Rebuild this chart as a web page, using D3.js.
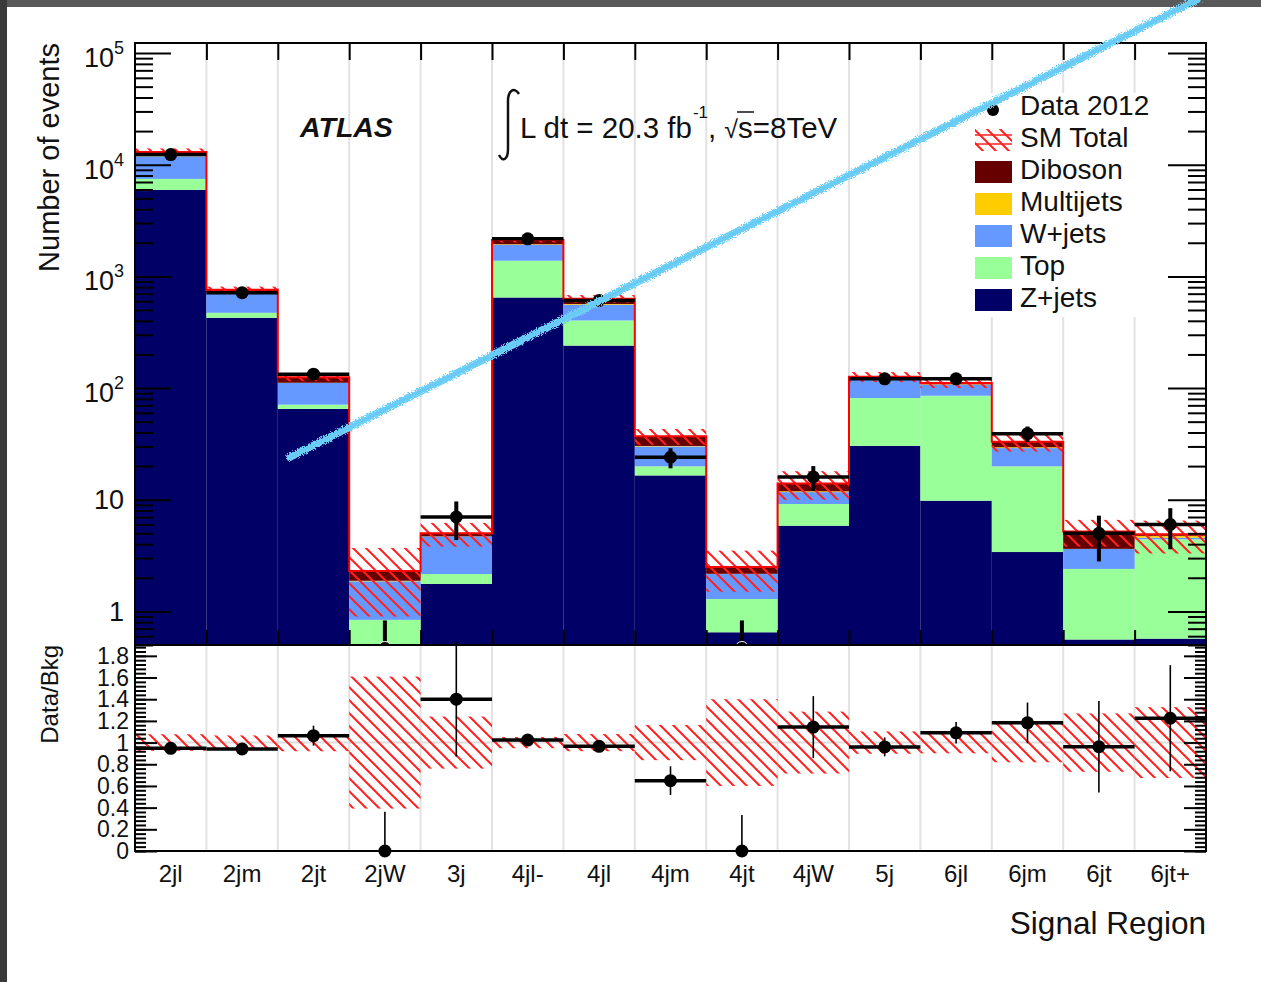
<!DOCTYPE html>
<html>
<head>
<meta charset="utf-8">
<script src="https://cdn.jsdelivr.net/npm/d3@7"></script>
<style>
body { margin: 0; background: #fff; }
svg { display: block; font-family: "Liberation Sans", Arial, Helvetica, sans-serif; }
</style>
</head>
<body>
<div id="canvas"></div>
<script>
// signal regions (bins)
const regions = ['2jl', '2jm', '2jt', '2jW', '3j', '4jl-', '4jl', '4jm', '4jt', '4jW', '5j', '6jl', '6jm', '6jt', '6jt+']

// background components, stacked bottom -> top
const zJets = [5960, 426, 65, 0.3, 1.76, 647, 240, 16.5, 0.65, 5.85, 30.4, 9.8, 3.4, 0.56, 0.57]
const topBkg = [1500, 46, 6, 0.54, 0.4, 734, 163, 3.4, 0.64, 3.3, 51, 75.5, 16.5, 1.84, 3.85]
const wJets = [4440, 238, 40, 1.02, 2.53, 537, 154, 10.1, 0.87, 2.55, 38, 21.7, 9.1, 1.22, 0.15]
const multijets = [100, 10, 0.5, 0.02, 0.01, 22, 8, 0.3, 0.01, 0.2, 1.6, 1, 0.5, 0.01, 0.18]
const diboson = [1000, 40, 13.5, 0.42, 0.3, 180, 65, 6.7, 0.33, 2.1, 5, 3, 3.5, 1.57, 0.15]

// SM total uncertainty (absolute)
const smTotalErr = [1000, 50, 10, 1.4, 1.2, 110, 50, 6, 1.0, 4, 13, 11, 6, 1.4, 1.6]

// observed data 2012 and its error
const dataObs = [12315, 715, 133, 0, 7, 2169, 608, 24, 0, 16, 121, 121, 39, 5, 6]
const dataErr = [111, 26.7, 11.5, 0.83, 2.65, 46.6, 24.7, 4.9, 0.83, 4, 11, 11, 6.2, 2.2, 2.4]

// axis ticks
const mainTicks = [1, 10, 100, 1e3, 1e4, 1e5]
const mainTickLabels = ['1', '10', '10|2', '10|3', '10|4', '10|5']
const ratioTicks = [0, 0.2, 0.4, 0.6, 0.8, 1, 1.2, 1.4, 1.6, 1.8]
const ratioTickLabels = ['0', '0.2', '0.4', '0.6', '0.8', '1', '1.2', '1.4', '1.6', '1.8']

// hand drawn annotation line, [bin position, events]
const annotation = [[2.17, 24], [14.87, 3.0e5]]

const keys = ['zjets', 'top', 'wjets', 'multijets', 'diboson']
const colors = {zjets: '#000066', top: '#99ff99', wjets: '#6699ff', multijets: '#ffcc00', diboson: '#660000'}
const legendItems = [
    ['data', 'Data 2012'],
    ['sm', 'SM Total'],
    ['diboson', 'Diboson'],
    ['multijets', 'Multijets'],
    ['wjets', 'W+jets'],
    ['top', 'Top'],
    ['zjets', 'Z+jets']
]

let width = 1261
let height = 982
let x0 = 135, x1 = 1206
let y0 = 43, yMid = 645, yBot = 851

let svg = d3.select('#canvas').append('svg')
    .attr('width', width)
    .attr('height', height)

// screenshot border
svg.append('rect').attr('width', width).attr('height', 7).attr('fill', '#595959')
svg.append('rect').attr('width', 7).attr('height', height).attr('fill', '#3a3a3a')

let defs = svg.append('defs')
let hatch = defs.append('pattern')
    .attr('id', 'hatch')
    .attr('patternUnits', 'userSpaceOnUse')
    .attr('width', 13)
    .attr('height', 13)
hatch.append('path')
    .attr('d', 'M0,0L13,13M-2,11L2,15M11,-2L15,2')
    .attr('stroke', '#ff2020')
    .attr('stroke-width', 2)

defs.append('clipPath').attr('id', 'clipMain')
    .append('rect').attr('x', x0).attr('y', y0).attr('width', x1 - x0).attr('height', yMid - y0)
defs.append('clipPath').attr('id', 'clipRatio')
    .append('rect').attr('x', x0).attr('y', yMid - 16).attr('width', x1 - x0).attr('height', yBot - yMid + 26)

let rough = defs.append('filter').attr('id', 'rough')
    .attr('x', '-5%').attr('y', '-5%').attr('width', '110%').attr('height', '110%')
rough.append('feTurbulence').attr('type', 'fractalNoise').attr('baseFrequency', 0.8).attr('numOctaves', 2).attr('result', 'noise')
rough.append('feDisplacementMap').attr('in', 'SourceGraphic').attr('in2', 'noise').attr('scale', 5)

// scales
let x = d3.scaleBand().domain(regions).range([x0, x1]).padding(0)
let xEdge = d3.scaleLinear().domain([0, regions.length]).range([x0, x1])
let y = d3.scaleLog().domain([0.5, 1.23e5]).range([yMid, y0])
let yr = d3.scaleLinear().domain([0, 1.9]).range([yBot, yMid])

// grid
let grid = svg.append('g')
grid.selectAll('line')
    .data(d3.range(1, regions.length))
    .enter()
    .append('line')
    .attr('x1', (d) => xEdge(d)).attr('x2', (d) => xEdge(d))
    .attr('y1', y0).attr('y2', yBot)
    .attr('stroke', '#e2e2e2')
    .attr('stroke-width', 2)
grid.append('line')
    .attr('x1', x0).attr('x2', x1)
    .attr('y1', yr(1)).attr('y2', yr(1))
    .attr('stroke', '#dcdcdc')
    .attr('stroke-width', 2)

// stack
let rows = regions.map((r, i) => ({
    region: r, zjets: zJets[i], top: topBkg[i], wjets: wJets[i],
    multijets: multijets[i], diboson: diboson[i]
}))
let totals = rows.map((d) => d3.sum(keys, (k) => d[k]))
let series = d3.stack().keys(keys)(rows)

let main = svg.append('g').attr('clip-path', 'url(#clipMain)')

main.selectAll('g.layer')
    .data(series)
    .enter()
    .append('g')
    .attr('class', 'layer')
    .attr('fill', (s) => colors[s.key])
    .selectAll('rect')
    .data((s) => s)
    .enter()
    .append('rect')
    .attr('x', (d) => x(d.data.region))
    .attr('width', x.bandwidth())
    .attr('y', (d) => y(d[1]))
    .attr('height', (d) => y(Math.max(d[0], 0.01)) - y(d[1]))

// SM total uncertainty band
main.append('g')
    .selectAll('rect')
    .data(regions)
    .enter()
    .append('rect')
    .attr('x', (d) => x(d))
    .attr('width', x.bandwidth())
    .attr('y', (d, i) => y(totals[i] + smTotalErr[i]))
    .attr('height', (d, i) => y(Math.max(totals[i] - smTotalErr[i], 0.01)) - y(totals[i] + smTotalErr[i]))
    .attr('fill', 'url(#hatch)')

// SM total outline
let steps = []
regions.forEach((r, i) => {
    steps.push([i, totals[i]])
    steps.push([i + 1, totals[i]])
})
main.append('path')
    .attr('d', d3.line().x((d) => xEdge(d[0])).y((d) => y(d[1]))(steps))
    .attr('fill', 'none')
    .attr('stroke', '#ff0000')
    .attr('stroke-width', 2)

// data
let dataG = main.append('g')
regions.forEach((r, i) => {
    let cx = x(r) + x.bandwidth() / 2
    if (dataObs[i] > 0) {
        dataG.append('line')
            .attr('x1', x(r)).attr('x2', x(r) + x.bandwidth())
            .attr('y1', y(dataObs[i])).attr('y2', y(dataObs[i]))
            .attr('stroke', 'black').attr('stroke-width', 3.5)
        dataG.append('line')
            .attr('x1', cx).attr('x2', cx)
            .attr('y1', y(dataObs[i] + dataErr[i])).attr('y2', y(Math.max(dataObs[i] - dataErr[i], 0.01)))
            .attr('stroke', 'black').attr('stroke-width', 4)
        dataG.append('circle')
            .attr('cx', cx).attr('cy', y(dataObs[i])).attr('r', 6.5)
            .attr('fill', 'black')
    } else {
        dataG.append('line')
            .attr('x1', cx).attr('x2', cx)
            .attr('y1', y(dataErr[i])).attr('y2', yMid)
            .attr('stroke', 'black').attr('stroke-width', 4)
        dataG.append('circle')
            .attr('cx', cx).attr('cy', yMid + 3).attr('r', 6.5)
            .attr('fill', 'black').attr('stroke', 'white').attr('stroke-width', 1)
    }
})

// ratio panel
let ratio = svg.append('g').attr('clip-path', 'url(#clipRatio)')
ratio.append('g')
    .selectAll('rect')
    .data(regions)
    .enter()
    .append('rect')
    .attr('x', (d) => x(d))
    .attr('width', x.bandwidth())
    .attr('y', (d, i) => yr(1 + smTotalErr[i] / totals[i]))
    .attr('height', (d, i) => yr(1 - smTotalErr[i] / totals[i]) - yr(1 + smTotalErr[i] / totals[i]))
    .attr('fill', 'url(#hatch)')

regions.forEach((r, i) => {
    let cx = x(r) + x.bandwidth() / 2
    let rv = dataObs[i] / totals[i]
    let re = dataErr[i] / totals[i]
    ratio.append('line')
        .attr('x1', cx).attr('x2', cx)
        .attr('y1', yr(rv + re)).attr('y2', yr(Math.max(rv - re, 0)))
        .attr('stroke', 'black').attr('stroke-width', 1.6)
    if (dataObs[i] > 0) {
        ratio.append('line')
            .attr('x1', x(r)).attr('x2', x(r) + x.bandwidth())
            .attr('y1', yr(rv)).attr('y2', yr(rv))
            .attr('stroke', 'black').attr('stroke-width', 3.5)
    }
    ratio.append('circle')
        .attr('cx', cx).attr('cy', yr(rv)).attr('r', 6.5)
        .attr('fill', 'black')
})

// axes
let minorLog = []
for (let e = -1; e <= 4; e++) {
    for (let k = 2; k <= 9; k++) {
        let v = k * Math.pow(10, e)
        if (v >= 0.5 && v <= 1.23e5) minorLog.push(v)
    }
}
let ratioMinor = d3.range(0, 1.9, 0.04)

function styleAxis(g) {
    g.select('.domain').remove()
    g.selectAll('line').attr('stroke', 'black').attr('stroke-width', 2)
    g.selectAll('text').remove()
}

svg.append('g').attr('transform', `translate(${x0},0)`)
    .call(d3.axisRight(y).tickValues(minorLog).tickSize(18)).call(styleAxis)
svg.append('g').attr('transform', `translate(${x0},0)`)
    .call(d3.axisRight(y).tickValues(mainTicks).tickSize(36)).call(styleAxis)
svg.append('g').attr('transform', `translate(${x1},0)`)
    .call(d3.axisLeft(y).tickValues(minorLog).tickSize(18)).call(styleAxis)
svg.append('g').attr('transform', `translate(${x1},0)`)
    .call(d3.axisLeft(y).tickValues(mainTicks).tickSize(38)).call(styleAxis)
svg.append('g').attr('transform', `translate(0,${y0})`)
    .call(d3.axisBottom(xEdge).tickValues(d3.range(1, regions.length)).tickSize(17)).call(styleAxis)
svg.append('g').attr('transform', `translate(0,${yMid})`)
    .call(d3.axisTop(xEdge).tickValues(d3.range(1, regions.length)).tickSize(15)).call(styleAxis)

svg.append('g').attr('transform', `translate(${x0},0)`)
    .call(d3.axisRight(yr).tickValues(ratioMinor).tickSize(11)).call(styleAxis)
svg.append('g').attr('transform', `translate(${x0},0)`)
    .call(d3.axisRight(yr).tickValues(ratioTicks).tickSize(22)).call(styleAxis)
svg.append('g').attr('transform', `translate(${x1},0)`)
    .call(d3.axisLeft(yr).tickValues(ratioMinor).tickSize(11)).call(styleAxis)
svg.append('g').attr('transform', `translate(${x1},0)`)
    .call(d3.axisLeft(yr).tickValues(ratioTicks).tickSize(22)).call(styleAxis)

// frames
svg.append('rect')
    .attr('x', x0).attr('y', y0).attr('width', x1 - x0).attr('height', yMid - y0)
    .attr('fill', 'none').attr('stroke', 'black').attr('stroke-width', 2)
svg.append('rect')
    .attr('x', x0).attr('y', yMid).attr('width', x1 - x0).attr('height', yBot - yMid)
    .attr('fill', 'none').attr('stroke', 'black').attr('stroke-width', 2)

// tick labels
mainTicks.forEach((t, i) => {
    let parts = mainTickLabels[i].split('|')
    let txt = svg.append('text')
        .attr('x', 124)
        .attr('text-anchor', 'end')
        .attr('font-size', 27)
        .attr('fill', '#111')
    if (parts.length === 1) {
        txt.attr('y', y(t) + 9.5).text(parts[0])
    } else {
        txt.attr('y', y(t) + 14)
        txt.append('tspan').text(parts[0])
        txt.append('tspan').attr('font-size', 18).attr('dy', -13).text(parts[1])
    }
})
ratioTicks.forEach((t, i) => {
    svg.append('text')
        .attr('x', 129)
        .attr('y', yr(t) + 8)
        .attr('text-anchor', 'end')
        .attr('font-size', 23)
        .attr('fill', '#111')
        .text(ratioTickLabels[i])
})
svg.append('g')
    .selectAll('text')
    .data(regions)
    .enter()
    .append('text')
    .attr('x', (d) => x(d) + x.bandwidth() / 2)
    .attr('y', 882)
    .attr('text-anchor', 'middle')
    .attr('font-size', 24)
    .attr('fill', '#111')
    .text((d) => d)

// axis titles
svg.append('text')
    .attr('transform', 'translate(59,43) rotate(-90)')
    .attr('text-anchor', 'end')
    .attr('font-size', 29)
    .attr('fill', '#111')
    .text('Number of events')
svg.append('text')
    .attr('transform', 'translate(58,645) rotate(-90)')
    .attr('text-anchor', 'end')
    .attr('font-size', 24)
    .attr('fill', '#111')
    .text('Data/Bkg')
svg.append('text')
    .attr('x', 1206).attr('y', 934)
    .attr('text-anchor', 'end')
    .attr('font-size', 31.5)
    .attr('fill', '#111')
    .text('Signal Region')

// labels
svg.append('text')
    .attr('x', 300).attr('y', 137)
    .attr('font-size', 28.5)
    .attr('font-weight', 'bold')
    .attr('font-style', 'italic')
    .attr('fill', '#111')
    .text('ATLAS')

svg.append('path')
    .attr('d', 'M519,94 C514,86 508,91 508,101 L508,149 C508,159 503,163 499,155')
    .attr('fill', 'none')
    .attr('stroke', '#111')
    .attr('stroke-width', 2.5)

let putText = function (str, px, py, size) {
    let t = svg.append('text')
        .attr('x', px).attr('y', py)
        .attr('font-size', size)
        .attr('fill', '#111')
        .text(str)
    return px + t.node().getComputedTextLength()
}
let cx = putText('L dt = 20.3 fb', 520, 138, 29.5)
cx = putText('-1', cx + 1, 118, 17)
cx = putText(',', cx, 138, 29.5)
cx = putText('\u221A', cx + 8, 138, 25)
let sx = cx
cx = putText('s=8TeV', cx, 138, 29.5)
svg.append('line')
    .attr('x1', sx - 1).attr('x2', sx + 16)
    .attr('y1', 112).attr('y2', 112)
    .attr('stroke', '#111').attr('stroke-width', 1.5)

// legend
let leg = svg.append('g')
leg.append('rect')
    .attr('x', 956).attr('y', 93).attr('width', 208).attr('height', 224)
    .attr('fill', 'white')
legendItems.forEach((item, i) => {
    let base = 115 + 32 * i
    if (item[0] === 'data') {
        leg.append('circle').attr('cx', 993).attr('cy', base - 5).attr('r', 6).attr('fill', 'black')
    } else if (item[0] === 'sm') {
        leg.append('rect')
            .attr('x', 975).attr('y', base - 18).attr('width', 37).attr('height', 22)
            .attr('fill', 'url(#hatch)')
        leg.append('line')
            .attr('x1', 975).attr('x2', 1012).attr('y1', base - 12).attr('y2', base - 12)
            .attr('stroke', '#ff2020').attr('stroke-width', 1.5)
        leg.append('line')
            .attr('x1', 975).attr('x2', 1012).attr('y1', base - 3).attr('y2', base - 3)
            .attr('stroke', '#ff2020').attr('stroke-width', 1.5)
    } else {
        leg.append('rect')
            .attr('x', 975).attr('y', base - 18).attr('width', 37).attr('height', 22)
            .attr('fill', colors[item[0]])
    }
    leg.append('text')
        .attr('x', 1020).attr('y', base)
        .attr('font-size', 28)
        .attr('fill', '#111')
        .text(item[1])
})

// hand drawn blue line on top
let annLine = d3.line().x((d) => xEdge(d[0])).y((d) => y(d[1]))
svg.append('path')
    .attr('d', annLine(annotation))
    .attr('stroke', '#70cff7')
    .attr('stroke-width', 7.5)
    .attr('stroke-linecap', 'round')
    .attr('fill', 'none')
    .attr('filter', 'url(#rough)')
svg.append('path')
    .attr('d', annLine(annotation))
    .attr('stroke', '#63c8f3')
    .attr('stroke-width', 3)
    .attr('fill', 'none')
    .attr('opacity', 0.6)
</script>
</body>
</html>
